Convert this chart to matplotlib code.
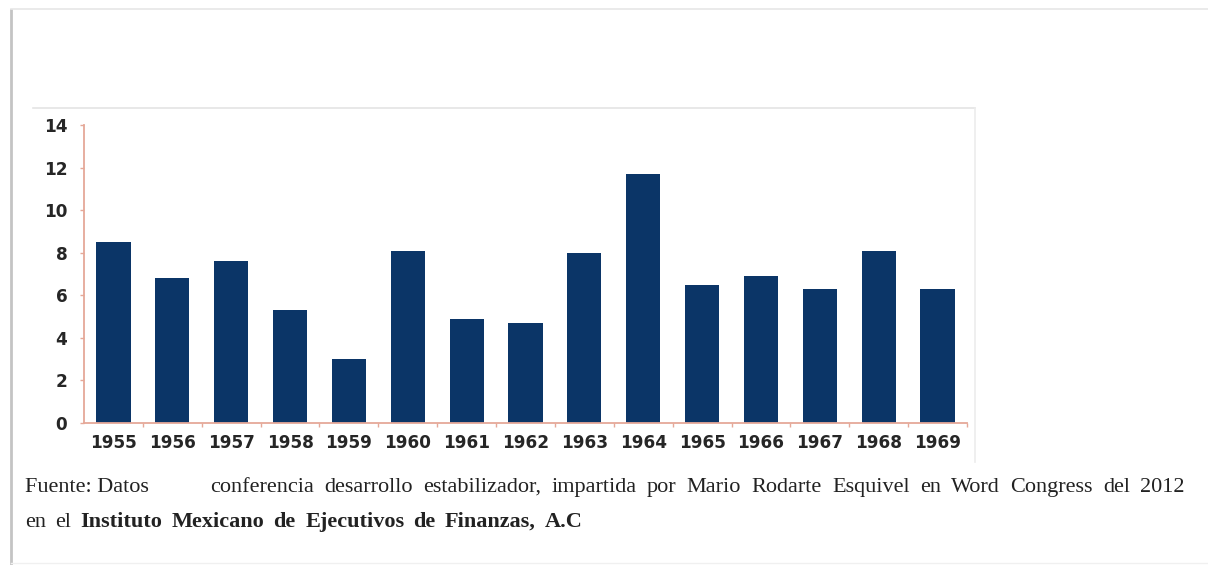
import matplotlib
matplotlib.use("Agg")
import matplotlib.pyplot as plt
from matplotlib.lines import Line2D

years = ["1955", "1956", "1957", "1958", "1959", "1960", "1961", "1962",
         "1963", "1964", "1965", "1966", "1967", "1968", "1969"]
values = [8.5, 6.8, 7.6, 5.3, 3.0, 8.1, 4.9, 4.7, 8.0, 11.7, 6.5, 6.9, 6.3, 8.1, 6.3]
yticks = [0, 2, 4, 6, 8, 10, 12, 14]

source_a = "Fuente: Datos"
source_b = ("conferencia desarrollo estabilizador, impartida por Mario Rodarte "
            "Esquivel en Word Congress del 2012")
source_c = "en el"
source_d = "Instituto Mexicano de Ejecutivos de Finanzas, A.C"

W, H = 1208, 565
fig = plt.figure(figsize=(W / 100, H / 100), dpi=100)
fig.patch.set_facecolor("white")

def fx(px):
    return px / W

def fy(py):
    return 1 - py / H

ax = fig.add_axes([fx(84), fy(423), fx(967) - fx(84), fy(125) - fy(423)])
bar_color = "#0b3567"
spine_color = "#e5a898"
ax.bar(range(len(years)), values, width=0.58, color=bar_color, zorder=2)
ax.set_xlim(-0.5, len(years) - 0.5)
ax.set_ylim(0, 14)
ax.set_yticks(yticks)
ax.set_yticklabels([str(t) for t in yticks])

for s in ["top", "right"]:
    ax.spines[s].set_visible(False)
for s in ["left", "bottom"]:
    ax.spines[s].set_color(spine_color)
    ax.spines[s].set_linewidth(1.3)

ax.set_xticks([i + 0.5 for i in range(len(years))])
ax.set_xticklabels([])
ax.set_xticks(range(len(years)), minor=True)
ax.set_xticklabels(years, minor=True)
ax.tick_params(axis="x", which="major", length=3, color=spine_color, width=1.0)
ax.tick_params(axis="x", which="minor", length=0, pad=8)
ax.tick_params(axis="y", length=3, color=spine_color, width=1.0, pad=9)

for lab in ax.get_xticklabels(minor=True) + ax.get_yticklabels():
    lab.set_fontfamily("DejaVu Sans")
    lab.set_fontweight("bold")
    lab.set_fontsize(12.2)
    lab.set_color("#262626")

# page / frame lines
fig.add_artist(Line2D([fx(11), fx(11)], [fy(10), fy(565)], color="#c4c4c4", lw=2.0))
fig.add_artist(Line2D([fx(11), fx(1208)], [fy(9), fy(9)], color="#e6e6e6", lw=1.2))
fig.add_artist(Line2D([fx(33), fx(975)], [fy(108), fy(108)], color="#e4e4e4", lw=1.2))
fig.add_artist(Line2D([fx(975), fx(975)], [fy(108), fy(462)], color="#ececec", lw=1.2))
fig.add_artist(Line2D([fx(11), fx(1208)], [fy(563), fy(563)], color="#f0f0f0", lw=1.0))

serif = "Liberation Serif"
fs = 16
renderer = fig.canvas.get_renderer()

def justify(pieces, x0, x1, ybase):
    """pieces: list of (word, weight). Spread words evenly between x0 and x1 (px)."""
    texts = []
    for w, wt in pieces:
        t = fig.text(fx(x0), fy(ybase), w, fontfamily=serif, fontsize=fs,
                     fontweight=wt, color="#222222", va="baseline", ha="left")
        texts.append(t)
    widths = [t.get_window_extent(renderer).width for t in texts]
    gap = (x1 - x0 - sum(widths)) / max(len(texts) - 1, 1)
    x = x0
    for t, wdt in zip(texts, widths):
        t.set_x(fx(x))
        x += wdt + gap

fig.text(fx(25), fy(492), source_a, fontfamily=serif, fontsize=fs,
         color="#222222", va="baseline", ha="left")
justify([(w, "normal") for w in source_b.split()], 210, 1185, 492)
justify([(w, "normal") for w in source_c.split()] +
        [(w, "bold") for w in source_d.split()], 25, 583, 527)

fig.savefig("out.png", dpi=100, facecolor="white")
